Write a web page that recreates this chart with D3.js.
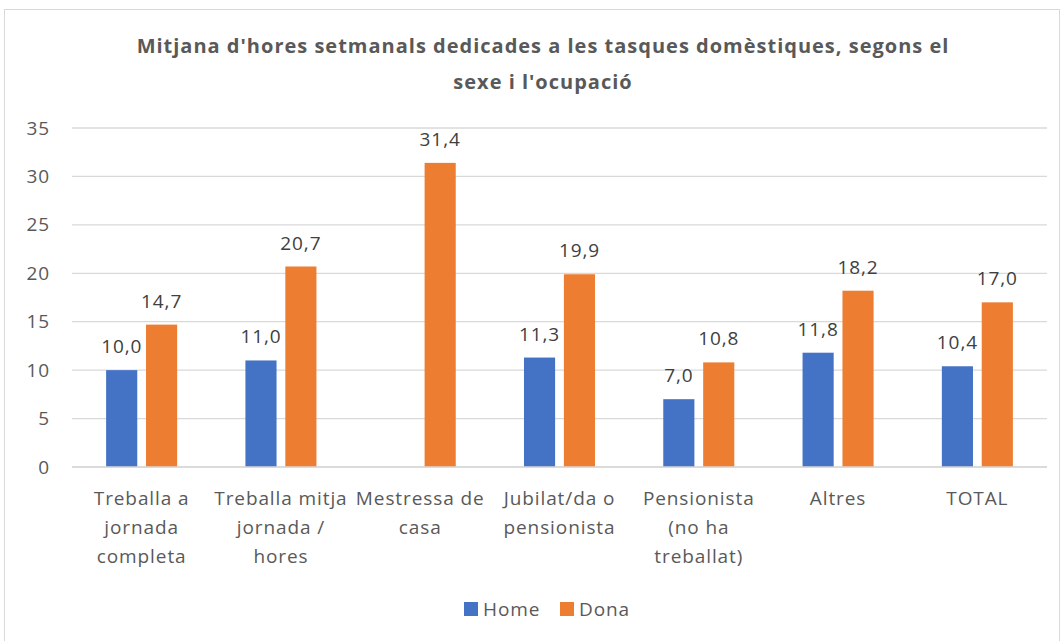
<!DOCTYPE html>
<html>
<head>
<meta charset="utf-8">
<script src="https://cdn.jsdelivr.net/npm/d3@7"></script>
<style>
  body { margin: 0; background: #fff; }
  text { font-family: "Open Sans", sans-serif; }
</style>
</head>
<body>
<svg id="chart"></svg>
<script>
// categories (wrapped as in the original), series values, ticks
const categories = [
  ["Treballa a", "jornada", "completa"],
  ["Treballa mitja", "jornada /", "hores"],
  ["Mestressa de", "casa"],
  ["Jubilat/da o", "pensionista"],
  ["Pensionista", "(no ha", "treballat)"],
  ["Altres"],
  ["TOTAL"]
];
const home = [10.0, 11.0, null, 11.3, 7.0, 11.8, 10.4];
const dona = [14.7, 20.7, 31.4, 19.9, 10.8, 18.2, 17.0];
const seriesNames = ["Home", "Dona"];
const yTicks = [0, 5, 10, 15, 20, 25, 30, 35];
const titleLines = [
  "Mitjana d'hores setmanals dedicades a les tasques domèstiques, segons el",
  "sexe i l'ocupació"
];

const colors = {Home: "#4472C4", Dona: "#ED7D31"};
const width = 1062, height = 641;
const margin = {top: 128, right: 15, bottom: 174, left: 72};
const innerW = width - margin.left - margin.right;
const innerH = height - margin.top - margin.bottom;
const fs = 19, ls = 0.9;

const svg = d3.select("#chart").attr("width", width).attr("height", height);

// outer chart border
svg.append("rect")
    .attr("x", 4.5).attr("y", 9.5)
    .attr("width", 1055).attr("height", 640)
    .attr("fill", "#fff").attr("stroke", "#d9d9d9");

// title
svg.append("text")
    .attr("text-anchor", "middle")
    .attr("font-size", 20).attr("font-weight", "bold").attr("fill", "#595959")
    .attr("letter-spacing", 1)
    .selectAll("tspan").data(titleLines).join("tspan")
    .attr("x", 543).attr("y", (d, i) => 53 + i * 36)
    .text(d => d);

const g = svg.append("g").attr("transform", `translate(${margin.left},${margin.top})`);

const x0 = d3.scaleBand().domain(d3.range(categories.length)).range([0, innerW]).paddingInner(0.49).paddingOuter(0.245);
const x1 = d3.scaleBand().domain(seriesNames).range([0, x0.bandwidth()]).paddingInner(0.22);
const y = d3.scaleLinear().domain([0, 35]).range([innerH, 0]);

// gridlines
g.append("g").selectAll("line").data(yTicks).join("line")
    .attr("x1", 0).attr("x2", innerW)
    .attr("y1", d => y(d)).attr("y2", d => y(d))
    .attr("stroke", "#d9d9d9").attr("stroke-width", 1.3);

// y axis labels
const yAxis = d3.axisLeft(y).tickValues(yTicks).tickSize(0).tickPadding(22);
g.append("g").call(yAxis)
    .call(a => a.select(".domain").remove())
    .selectAll("text")
    .attr("font-size", fs).attr("letter-spacing", ls)
    .attr("fill", "#595959").attr("font-family", "Open Sans, sans-serif");

// rows of data
const rows = categories.map((c, i) => ({i, values: [
  {key: "Home", value: home[i]},
  {key: "Dona", value: dona[i]}
].filter(d => d.value != null)}));

const groups = g.append("g").selectAll("g").data(rows).join("g")
    .attr("transform", d => `translate(${x0(d.i)},0)`);

groups.selectAll("rect").data(d => d.values).join("rect")
    .attr("x", d => x1(d.key))
    .attr("y", d => y(d.value))
    .attr("width", x1.bandwidth())
    .attr("height", d => innerH - y(d.value))
    .attr("fill", d => colors[d.key]);

groups.selectAll("text.val").data(d => d.values).join("text")
    .attr("class", "val")
    .attr("x", d => x1(d.key) + x1.bandwidth() / 2)
    .attr("y", d => y(d.value) - 17)
    .attr("text-anchor", "middle")
    .attr("font-size", fs).attr("letter-spacing", ls).attr("fill", "#404040")
    .text(d => d3.format(".1f")(d.value).replace(".", ","));

// category labels
const catG = g.append("g").attr("transform", `translate(0,${innerH})`);
catG.selectAll("text").data(categories).join("text")
    .attr("text-anchor", "middle")
    .attr("font-size", fs).attr("letter-spacing", ls).attr("fill", "#595959")
    .selectAll("tspan").data((d, i) => d.map(line => ({line, i}))).join("tspan")
    .attr("x", d => x0(d.i) + x0.bandwidth() / 2)
    .attr("y", (d, j) => 38 + j * 29)
    .text(d => d.line);

// baseline
g.append("line")
    .attr("x1", 0).attr("x2", innerW)
    .attr("y1", innerH).attr("y2", innerH)
    .attr("stroke", "#d9d9d9").attr("stroke-width", 1.3);

// legend
const legend = svg.append("g");
const legendX = [464, 560];
seriesNames.forEach((name, i) => {
  legend.append("rect")
      .attr("x", legendX[i]).attr("y", 602)
      .attr("width", 14).attr("height", 14)
      .attr("fill", colors[name]);
  legend.append("text")
      .attr("x", legendX[i] + 19).attr("y", 616)
      .attr("font-size", fs).attr("letter-spacing", ls).attr("fill", "#595959")
      .text(name);
});
</script>
</body>
</html>
